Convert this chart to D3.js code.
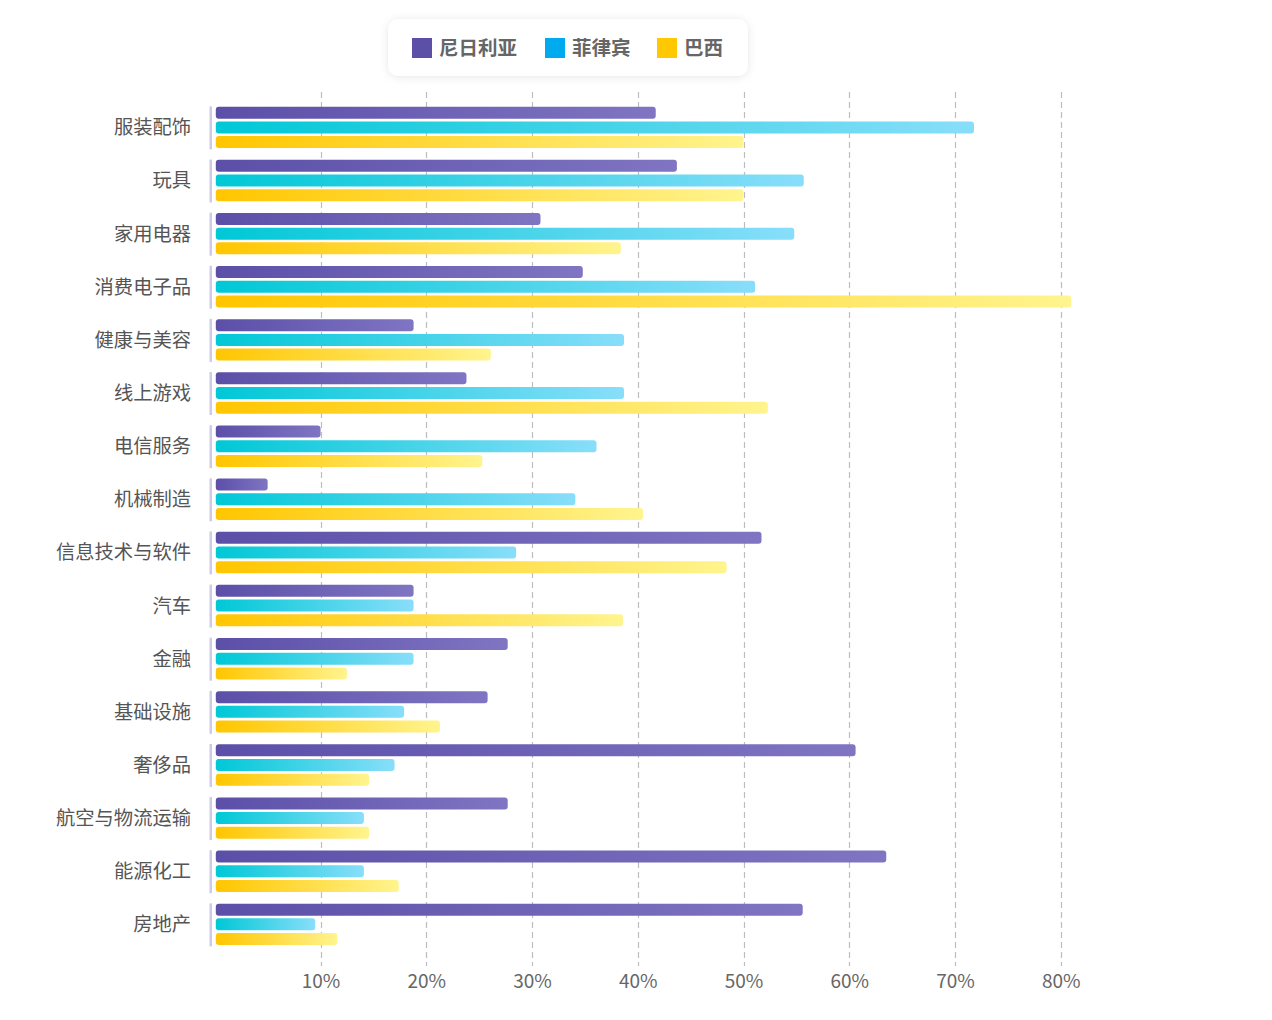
<!DOCTYPE html>
<html><head><meta charset="utf-8">
<script src="https://cdn.jsdelivr.net/npm/d3@7/dist/d3.min.js"></script>
<style>
html,body{margin:0;padding:0;background:#fff;}
svg{display:block;font-family:"Noto Sans CJK SC","Noto Sans",sans-serif;}
</style></head>
<body>
<svg id="chart" width="1272" height="1020"></svg>
<script>
const categories = ["服装配饰","玩具","家用电器","消费电子品","健康与美容","线上游戏","电信服务","机械制造","信息技术与软件","汽车","金融","基础设施","奢侈品","航空与物流运输","能源化工","房地产"];
const seriesNames = ["尼日利亚","菲律宾","巴西"];
const nigeria =     [41.7, 43.7, 30.8, 34.8, 18.8, 23.8, 10.0,  5.0, 51.7, 18.8, 27.7, 25.8, 60.6, 27.7, 63.5, 55.6];
const philippines = [71.8, 55.7, 54.8, 51.1, 38.7, 38.7, 36.1, 34.1, 28.5, 18.8, 18.8, 17.9, 17.0, 14.1, 14.1,  9.5];
const brazil =      [50.0, 50.0, 38.4, 81.0, 26.1, 52.3, 25.3, 40.5, 48.4, 38.6, 12.5, 21.3, 14.6, 14.6, 17.4, 11.6];
const tickValues = [10,20,30,40,50,60,70,80];
const tickLabels = ["10%","20%","30%","40%","50%","60%","70%","80%"];

const seriesData = [nigeria, philippines, brazil];
const legendColors = ["#5b4fa8","#00aaee","#ffc800"];
const gradStops = [["#5b4fa8","#7f75c2"],["#00c8d6","#88defa"],["#ffc600","#fff48e"]];

const svg = d3.select("#chart");
const defs = svg.append("defs");
gradStops.forEach((g,i)=>{
  const lg = defs.append("linearGradient").attr("id","g"+i).attr("x1","0").attr("x2","1").attr("y1","0").attr("y2","0");
  lg.append("stop").attr("offset","0%").attr("stop-color",g[0]);
  lg.append("stop").attr("offset","100%").attr("stop-color",g[1]);
});
const f = defs.append("filter").attr("id","shadow").attr("x","-20%").attr("y","-50%").attr("width","140%").attr("height","200%");
f.append("feDropShadow").attr("dx",0).attr("dy",1).attr("stdDeviation",4).attr("flood-color","#000").attr("flood-opacity",0.10);

const x = d3.scaleLinear().domain([0,80]).range([214.8, 214.8 + 80*10.574]);
const y = d3.scaleBand().domain(categories).range([100.4, 100.4 + 16*53.13]).padding(0);
const ySub = d3.scaleBand().domain(seriesNames).range([0, 41.4]).paddingInner(0.184).paddingOuter(0);

// grid lines
svg.append("g").selectAll("line").data(tickValues).join("line")
  .attr("x1", d=>Math.round(x(d))+0.5).attr("x2", d=>Math.round(x(d))+0.5)
  .attr("y1", 92).attr("y2", 966)
  .attr("stroke","#bdbdbd").attr("stroke-width",1.2).attr("stroke-dasharray","6,4");

// x tick labels
const xAxis = d3.axisBottom(x).tickValues(tickValues).tickFormat((d,i)=>tickLabels[i]).tickSize(0).tickPadding(0);
const gx = svg.append("g").attr("transform","translate(0,974)").call(xAxis);
gx.select(".domain").remove();
gx.selectAll("text").attr("font-size",19).attr("fill","#666").attr("font-family","'Noto Sans CJK SC',sans-serif").attr("dy","0.71em");

// category groups
const groups = svg.append("g").selectAll("g").data(categories).join("g")
  .attr("transform", d=>`translate(0,${y(d)+6.3})`);

groups.append("rect").attr("x",209.5).attr("y",-0.3).attr("width",2.5).attr("height",43)
  .attr("fill","#cfcbe6");

groups.append("text").attr("x",191).attr("y",20.9).attr("dy","0.35em")
  .attr("text-anchor","end").attr("font-size",19.3).attr("fill","#555")
  .text(d=>d);

seriesNames.forEach((s,si)=>{
  groups.append("rect")
    .attr("x", x(0)+1)
    .attr("y", ySub(s))
    .attr("height", ySub.bandwidth())
    .attr("width", (d,i)=>x(seriesData[si][i]) - x(0) - 1)
    .attr("rx",3).attr("ry",3)
    .attr("fill",`url(#g${si})`);
});

// legend
const lg = svg.append("g");
lg.append("rect").attr("x",388).attr("y",19).attr("width",360).attr("height",57).attr("rx",11)
  .attr("fill","#fff").attr("filter","url(#shadow)");
const legX = [412,545,657];
seriesNames.forEach((s,i)=>{
  lg.append("rect").attr("x",legX[i]).attr("y",38).attr("width",20).attr("height",20).attr("fill",legendColors[i]);
  lg.append("text").attr("x",legX[i]+27).attr("y",48.5).attr("dy","0.35em")
    .attr("font-size",19.5).attr("font-weight",700).attr("fill","#666").text(s);
});
</script>
</body></html>
